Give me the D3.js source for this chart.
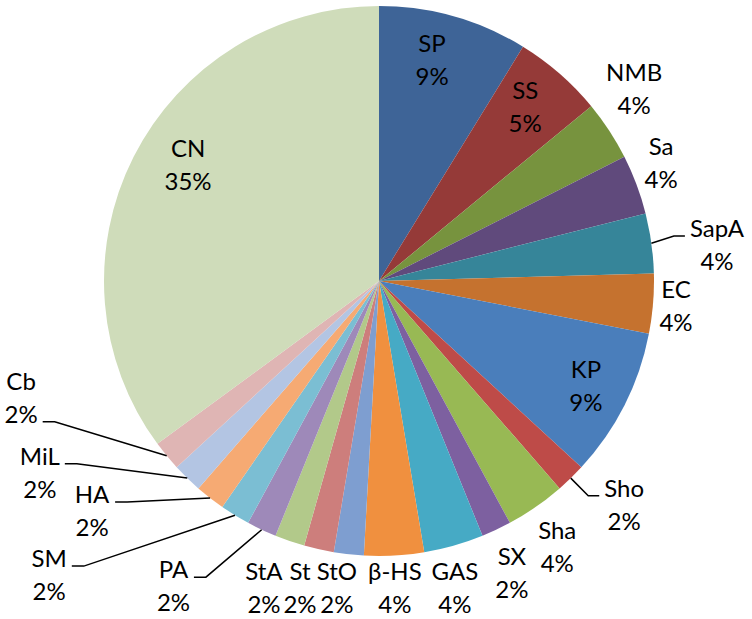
<!DOCTYPE html>
<html>
<head>
<meta charset="utf-8">
<script src="https://cdn.jsdelivr.net/npm/d3@7"></script>
<style>
  body { margin: 0; background: #fff; }
  text { font-family: Lato, "Open Sans", sans-serif; font-size: 24px; fill: #000; }
</style>
</head>
<body>
<script>
// categories and counts, clockwise from 12 o'clock
const names = ['SP', 'SS', 'NMB', 'Sa', 'SapA', 'EC', 'KP', 'Sho', 'Sha', 'SX', 'GAS',
  'β-HS', 'StO', 'St', 'StA', 'PA', 'SM', 'HA', 'MiL', 'Cb', 'CN'];
const counts = [5, 3, 2, 2, 2, 2, 5, 1, 2, 1, 2, 2, 1, 1, 1, 1, 1, 1, 1, 1, 20];
const pctLabels = ['9%', '5%', '4%', '4%', '4%', '4%', '9%', '2%', '4%', '2%', '4%',
  '4%', '2%', '2%', '2%', '2%', '2%', '2%', '2%', '2%', '35%'];

const colors = ['#3e6497', '#953a38', '#77933e', '#604a7c', '#368599', '#c5722f',
  '#4a7ebb', '#be4b48', '#98b954', '#7d60a0', '#46aac5', '#f0903f',
  '#7e9ed0', '#cd7e7c', '#b2c98a', '#9e89b9', '#7bbed3', '#f6aa73',
  '#b3c5e3', '#dfb5b4', '#cfdcba'];

// label placement: [radius as share of pie radius, angle nudge in degrees]
const labelLayout = [[0.827, -2.3], [0.826, -1.0], [1.161, -3.8], [1.112, -2.2], [1.236, 1.8],
  [1.084, 0.1], [0.844, 0.1], [1.207, -3.4], [1.164, 0.9], [1.167, 0.8], [1.150, 1.9],
  [1.118, 0.2], [1.127, 1.5], [1.153, 1.8], [1.192, 1.6], [1.338, 8.7], [1.607, 16.7],
  [1.337, 13.4], [1.417, 16.3], [1.369, 21.4], [0.813, 4.5]];
// which labels get a leader line, and which text line it meets (0 = name, 1 = percent)
const leaders = {SapA: 0, Sho: 0, PA: 0, SM: 0, HA: 0, MiL: 0, Cb: 1};

const width = 752, height = 619;
const cx = 379, cy = 281, R = 275;

const svg = d3.select('body').append('svg')
  .attr('width', width)
  .attr('height', height);

const g = svg.append('g').attr('transform', `translate(${cx},${cy})`);

const pie = d3.pie().sort(null).value(d => d);
const arcs = pie(counts);
const arc = d3.arc().innerRadius(0).outerRadius(R);

g.selectAll('path.slice')
  .data(arcs).enter()
  .append('path')
  .attr('class', 'slice')
  .attr('d', arc)
  .attr('fill', (d, i) => colors[i]);

const polar = (r, a) => [r * Math.sin(a), -r * Math.cos(a)];
const lineGap = 33;

arcs.forEach((d, i) => {
  const mid = (d.startAngle + d.endAngle) / 2;
  const [rf, nudge] = labelLayout[i];
  const [x, y] = polar(rf * R, mid + nudge * Math.PI / 180);

  const t = g.append('text')
    .attr('text-anchor', 'middle');
  const t1 = t.append('tspan').attr('x', x).attr('y', y - 8).text(names[i]);
  const t2 = t.append('tspan').attr('x', x).attr('y', y - 8 + lineGap).text(pctLabels[i]);

  if (names[i] in leaders) {
    const lineIdx = leaders[names[i]];
    const box = (lineIdx === 0 ? t1 : t2).node().getBBox();
    const start = polar(R, mid);
    const onLeft = x < 0;
    const ey = (lineIdx === 0 ? y - 8 : y - 8 + lineGap) - 1;
    const ex = onLeft ? box.x + box.width + 5 : box.x - 5;
    const elbow = [onLeft ? ex + 12 : ex - 11, ey];
    g.append('path')
      .attr('d', d3.line()([start, elbow, [ex, ey]]))
      .attr('fill', 'none')
      .attr('stroke', '#000')
      .attr('stroke-width', 1.5);
  }
});
</script>
</body>
</html>
